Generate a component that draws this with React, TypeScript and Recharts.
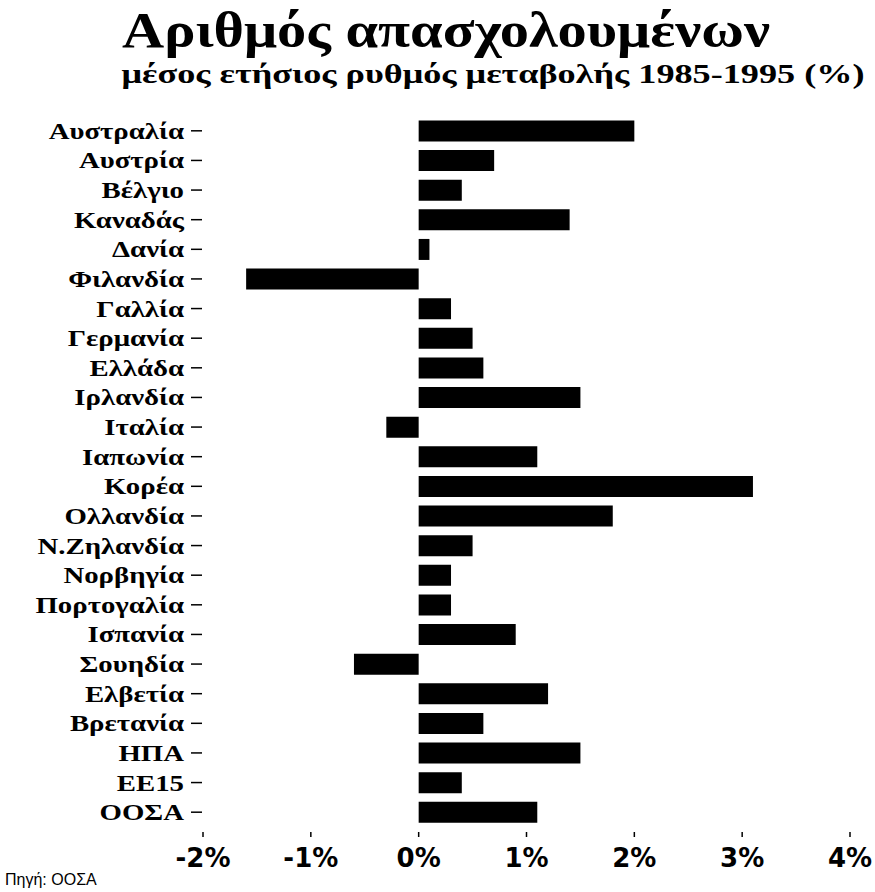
import React from 'react';
import { BarChart, Bar, XAxis, YAxis } from 'recharts';

const countries = [
  'Αυστραλία', 'Αυστρία', 'Βέλγιο', 'Καναδάς', 'Δανία', 'Φιλανδία', 'Γαλλία', 'Γερμανία',
  'Ελλάδα', 'Ιρλανδία', 'Ιταλία', 'Ιαπωνία', 'Κορέα', 'Ολλανδία', 'Ν.Ζηλανδία', 'Νορβηγία',
  'Πορτογαλία', 'Ισπανία', 'Σουηδία', 'Ελβετία', 'Βρετανία', 'ΗΠΑ', 'ΕΕ15', 'ΟΟΣΑ',
];
const growth = [
  2.0, 0.7, 0.4, 1.4, 0.1, -1.6, 0.3, 0.5,
  0.6, 1.5, -0.3, 1.1, 3.1, 1.8, 0.5, 0.3,
  0.3, 0.9, -0.6, 1.2, 0.6, 1.5, 0.4, 1.1,
];
const xTicks = [-2, -1, 0, 1, 2, 3, 4];

const data = countries.map((name, i) => ({ name, value: growth[i] }));

const serif = "'Liberation Serif', 'DejaVu Serif', serif";
const sansBold = "'DejaVu Sans', 'Liberation Sans', Arial, sans-serif";

// recharts hands custom ticks a point already shifted by tickSize + tickMargin (8px)
function XTick({ x, y, payload }: any) {
  const top = y - 8;
  return (
    <g>
      <line x1={x} x2={x} y1={top + 5} y2={top + 10} stroke="#000" strokeWidth={1.5} />
      <text x={x} y={top + 40} textAnchor="middle" fontFamily={sansBold} fontWeight="bold" fontSize={26} fill="#000">
        {`${payload.value}%`}
      </text>
    </g>
  );
}

function YTick({ x, y, payload }: any) {
  const edge = x + 8;
  return (
    <g>
      <line x1={edge - 12} x2={edge - 1} y1={y} y2={y} stroke="#000" strokeWidth={1.5} />
      <text
        transform={`translate(${edge - 19},${y + 8}) scale(1.2,1)`}
        textAnchor="end"
        fontFamily={serif}
        fontWeight="bold"
        fontSize={24}
        fill="#000"
      >
        {payload.value}
      </text>
    </g>
  );
}

export default function App() {
  return (
    <div style={{ position: 'absolute', left: 0, top: 0, width: 875, height: 892, background: '#fff' }}>
      <BarChart
        width={875}
        height={892}
        data={data}
        layout="vertical"
        margin={{ top: 116, right: 25, bottom: 0, left: 0 }}
        barCategoryGap="15%"
      >
        <XAxis
          type="number"
          domain={[-2, 4]}
          ticks={xTicks}
          axisLine={false}
          tickLine={false}
          height={65}
          tick={<XTick />}
        />
        <YAxis
          type="category"
          dataKey="name"
          width={203}
          axisLine={false}
          tickLine={false}
          interval={0}
          tick={<YTick />}
        />
        <Bar dataKey="value" fill="#000" isAnimationActive={false} />
      </BarChart>
      <svg width={875} height={110} style={{ position: 'absolute', left: 0, top: 0 }}>
        <text x={446} y={47} textAnchor="middle" fontFamily={serif} fontWeight="bold" fontSize={50} textLength={648} lengthAdjust="spacingAndGlyphs">
          Αριθμός απασχολουμένων
        </text>
        <text x={493} y={83} textAnchor="middle" fontFamily={serif} fontWeight="bold" fontSize={27} textLength={743} lengthAdjust="spacingAndGlyphs">
          μέσος ετήσιος ρυθμός μεταβολής 1985-1995 (%)
        </text>
      </svg>
      <div style={{ position: 'absolute', left: 5, top: 871, fontFamily: "'Liberation Sans', Arial, sans-serif", fontSize: 16 }}>
        Πηγή: ΟΟΣΑ
      </div>
    </div>
  );
}
